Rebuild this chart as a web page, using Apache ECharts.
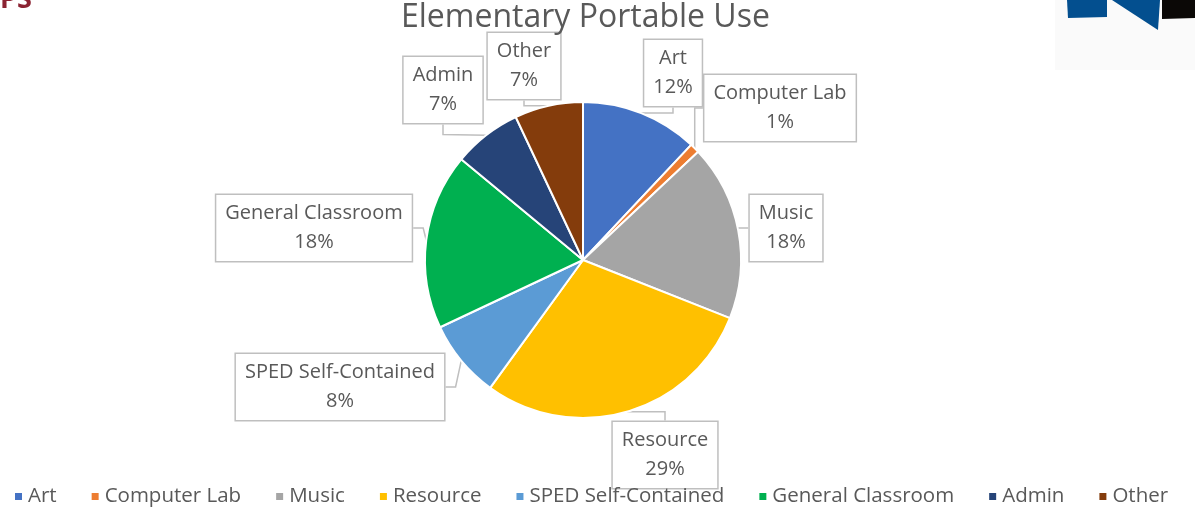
<!DOCTYPE html>
<html>
<head>
<meta charset="utf-8">
<script src="https://cdn.jsdelivr.net/npm/echarts@6/dist/echarts.min.js"></script>
<style>
  html, body { margin: 0; padding: 0; background: #fff; }
  #chart { width: 1195px; height: 512px; }
</style>
</head>
<body>
<div id="chart"></div>
<script>
// slices, clockwise from 12 o'clock
var categories = ['Art', 'Computer Lab', 'Music', 'Resource', 'SPED Self-Contained', 'General Classroom', 'Admin', 'Other'];
var percents = [12, 1, 18, 29, 8, 18, 7, 7];
var colorList = ['#4472C4', '#ED7D31', '#A5A5A5', '#FFC000', '#5B9BD5', '#00B050', '#264478', '#843C0C'];

// callout box centres (Excel placed them by hand)
var boxPos = [[673, 73], [780, 108], [786, 228], [665, 455], [340, 387], [314, 228], [443, 90], [524, 66]];

var myChart = echarts.init(document.getElementById('chart'));

var option = {
    backgroundColor: '#fff',
    color: colorList,
    title: {
        text: 'Elementary Portable Use',
        left: 396,
        top: -3,
        textStyle: {
            fontFamily: 'Open Sans',
            fontSize: 32,
            fontWeight: 'normal',
            color: '#595959'
        }
    },
    legend: {
        bottom: 0,
        left: 8,
        itemWidth: 9,
        itemHeight: 9,
        itemGap: 33,
        icon: 'rect',
        textStyle: {
            fontFamily: 'Open Sans',
            fontSize: 20.5,
            color: '#595959'
        },
        data: categories
    },
    graphic: [
        {
            type: 'text',
            left: 0,
            top: -13,
            style: { text: 'PS', fontSize: 27, fontWeight: 'bold', fill: '#8B2332', fontFamily: 'Open Sans' }
        },
        {
            type: 'rect',
            shape: { x: 1055, y: 0, width: 140, height: 70 },
            style: { fill: '#fafafa' },
            z: -1
        },
        {
            type: 'polygon',
            shape: { points: [[1067, 0], [1107, 0], [1107, 17], [1068, 18]] },
            style: { fill: '#034F8F' }
        },
        {
            type: 'polygon',
            shape: { points: [[1112, 0], [1160, 0], [1158, 30]] },
            style: { fill: '#034F8F' }
        },
        {
            type: 'polygon',
            shape: { points: [[1162, 0], [1195, 0], [1195, 18], [1162, 19]] },
            style: { fill: '#0b0806' }
        }
    ],
    series: [{
        name: 'Elementary Portable Use',
        type: 'pie',
        center: [583, 260],
        radius: 158,
        startAngle: 90,
        clockwise: true,
        itemStyle: {
            borderColor: '#fff',
            borderWidth: 2
        },
        label: {
            show: true,
            formatter: '{b}\n{d}%',
            fontFamily: 'Open Sans',
            fontSize: 20,
            lineHeight: 29,
            color: '#595959',
            align: 'center',
            backgroundColor: '#fff',
            borderColor: '#bfbfbf',
            borderWidth: 1.5,
            padding: [4, 9, 4, 9]
        },
        labelLine: {
            show: true,
            length: 10,
            length2: 10,
            lineStyle: { color: '#bfbfbf', width: 1.5 }
        },
        labelLayout: function (params) {
            var p = boxPos[params.dataIndex];
            return {
                x: p[0],
                y: p[1],
                align: 'center',
                verticalAlign: 'middle',
                draggable: false
            };
        },
        emphasis: { disabled: true },
        data: categories.map(function (c, i) {
            return { name: c, value: percents[i] };
        })
    }]
};

myChart.setOption(option);
window.addEventListener('resize', function () {
    myChart.resize();
});
</script>
</body>
</html>
